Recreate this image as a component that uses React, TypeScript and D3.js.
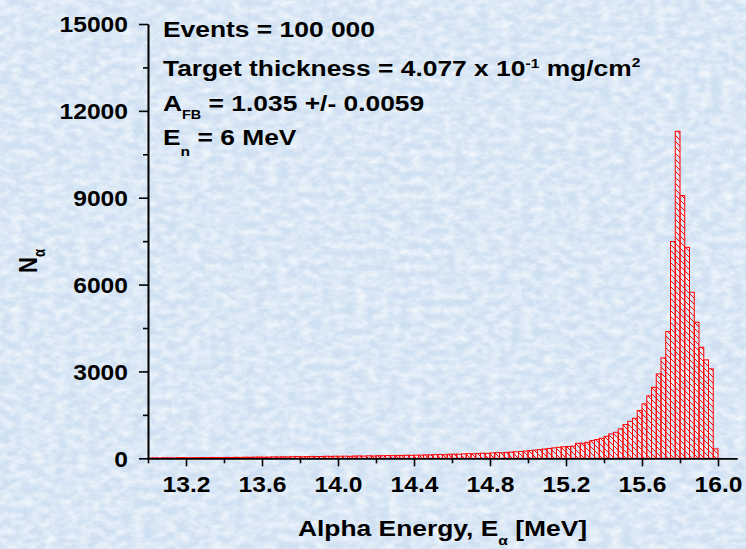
import React, { Component } from 'react';
import * as d3 from 'd3';

// histogram: 120 bins of 0.025 MeV, starting at 13.0 MeV
const binStart = 13.0;
const binWidth = 0.025;
const counts = [
    10, 15, 12, 20, 18, 14, 22, 25, 18, 20, 24, 28, 22, 30, 26, 24, 32, 28, 35, 30,
    38, 34, 40, 45, 38, 42, 50, 46, 52, 48, 55, 60, 52, 58, 65, 60, 62, 70, 66, 72,
    70, 74, 68, 78, 82, 76, 86, 80, 90, 88, 95, 92, 100, 98, 106, 102, 110, 108, 116, 120,
    125, 130, 122, 138, 145, 140, 152, 160, 155, 168, 175, 170, 185, 195, 190, 205, 215, 225, 235, 250,
    265, 285, 300, 320, 340, 360, 380,
    400, 405, 420, 518, 518, 553, 611, 646, 691, 760, 843, 898, 1016, 1164, 1278, 1382, 1648,
    1879, 2155, 2452, 2915, 3467, 4376, 7485, 11295, 9074, 7288, 5734, 4698, 3834, 3399, 3088, 325
];

const xMajorTicks = [13.2, 13.6, 14.0, 14.4, 14.8, 15.2, 15.6, 16.0];
const xMinorTicks = [13.0, 13.4, 13.8, 14.2, 14.6, 15.0, 15.4, 15.8];
const yMajorTicks = [0, 3000, 6000, 9000, 12000, 15000];
const yMinorTicks = [1500, 4500, 7500, 10500, 13500];

const FONT = "'Liberation Sans', Arial, sans-serif";
const SX_TICK = 1.12; // the original picture is stretched sideways
const SX_TEXT = 1.2;

class App extends Component {
    componentDidMount() {
        this.createchart();
    }

    componentDidUpdate() {
        this.createchart();
    }

    createchart() {
        const node = this.node;
        const width = 746, height = 549;

        const svg = d3.select(node);
        svg.selectAll('*').remove();
        svg.attr('width', width).attr('height', height);

        const defs = svg.append('defs');
        const filter = defs.append('filter').attr('id', 'mottle')
            .attr('x', 0).attr('y', 0).attr('width', '100%').attr('height', '100%');
        filter.append('feTurbulence')
            .attr('type', 'fractalNoise')
            .attr('baseFrequency', '0.09 0.14')
            .attr('numOctaves', 3)
            .attr('seed', 11);
        filter.append('feColorMatrix')
            .attr('type', 'matrix')
            .attr('values', '0 0 0 0 1  0 0 0 0 1  0 0 0 0 1  1.2 0 0 0 -0.35');

        const hatch = defs.append('pattern').attr('id', 'hatch')
            .attr('patternUnits', 'userSpaceOnUse')
            .attr('width', 6).attr('height', 6);
        hatch.append('path')
            .attr('d', 'M-1,-1 L7,7 M-1,5 L1,7 M5,-1 L7,1')
            .attr('stroke', '#ff0000')
            .attr('stroke-width', 1);

        // background
        svg.append('rect').attr('width', width).attr('height', height).attr('fill', '#cee0f2');
        svg.append('rect').attr('width', width).attr('height', height).attr('filter', 'url(#mottle)');

        const xScale = d3.scaleLinear().domain([13.0, 16.1]).range([148, 737]);
        const yScale = d3.scaleLinear().domain([0, 15000]).range([458.3, 24]);

        // bars
        svg.append('g').selectAll('rect')
            .data(counts)
            .enter()
            .append('rect')
            .attr('x', (d, i) => xScale(binStart + i * binWidth))
            .attr('width', (d, i) => xScale(binStart + (i + 1) * binWidth) - xScale(binStart + i * binWidth))
            .attr('y', d => yScale(d))
            .attr('height', d => yScale(0) - yScale(d))
            .attr('fill', 'url(#hatch)')
            .attr('stroke', '#ff0000')
            .attr('stroke-width', 1);

        const styleAxis = (g) => {
            g.select('.domain').attr('stroke', '#000').attr('stroke-width', 1.6);
            g.selectAll('.tick line').attr('stroke', '#000').attr('stroke-width', 1.6);
        };

        // x axis
        const xAxis = svg.append('g')
            .attr('transform', 'translate(0,' + yScale(0) + ')')
            .call(d3.axisBottom(xScale).tickValues(xMajorTicks).tickSize(8).tickSizeOuter(0)
                .tickFormat(d3.format('.1f')))
            .call(styleAxis);
        xAxis.selectAll('.tick text')
            .attr('y', 34).attr('dy', 0)
            .attr('transform', 'scale(' + SX_TICK + ',1)')
            .attr('fill', '#000')
            .style('font-family', FONT).style('font-weight', 'bold').style('font-size', '22px');
        svg.append('g')
            .attr('transform', 'translate(0,' + yScale(0) + ')')
            .call(d3.axisBottom(xScale).tickValues(xMinorTicks).tickSize(5).tickSizeOuter(0).tickFormat(''))
            .call(styleAxis);

        // y axis
        const yAxis = svg.append('g')
            .attr('transform', 'translate(' + xScale(13.0) + ',0)')
            .call(d3.axisLeft(yScale).tickValues(yMajorTicks).tickSize(9).tickSizeOuter(0)
                .tickFormat(d3.format('d')))
            .call(styleAxis);
        yAxis.selectAll('.tick text')
            .attr('x', -20 / SX_TICK).attr('dy', '0.36em')
            .attr('transform', 'scale(' + SX_TICK + ',1)')
            .attr('fill', '#000')
            .style('font-family', FONT).style('font-weight', 'bold').style('font-size', '22px');
        svg.append('g')
            .attr('transform', 'translate(' + xScale(13.0) + ',0)')
            .call(d3.axisLeft(yScale).tickValues(yMinorTicks).tickSize(5).tickSizeOuter(0).tickFormat(''))
            .call(styleAxis);

        // axis titles
        const xTitle = svg.append('g')
            .attr('transform', 'translate(' + ((xScale(13.0) + xScale(16.1)) / 2) + ',536) scale(' + SX_TEXT + ',1)')
            .append('text')
            .attr('text-anchor', 'middle')
            .style('font-family', FONT).style('font-weight', 'bold').style('font-size', '22px');
        xTitle.append('tspan').text('Alpha Energy, E');
        xTitle.append('tspan').attr('dy', 9).style('font-size', '13px').text('α');
        xTitle.append('tspan').attr('dy', -9).text(' [MeV]');

        const yTitle = svg.append('g')
            .attr('transform', 'translate(37,261) scale(' + SX_TEXT + ',1) rotate(-90)')
            .append('text')
            .attr('text-anchor', 'middle')
            .style('font-family', FONT).style('font-weight', 'bold').style('font-size', '22px');
        yTitle.append('tspan').text('N');
        yTitle.append('tspan').attr('dy', 7).style('font-size', '13px').text('α');

        // annotation block
        const note = svg.append('g')
            .attr('transform', 'translate(163,0) scale(' + SX_TEXT + ',1)')
            .style('font-family', FONT).style('font-weight', 'bold').style('font-size', '22px');

        note.append('text').attr('y', 37).text('Events = 100 000');

        const l2 = note.append('text').attr('y', 76);
        l2.append('tspan').text('Target thickness = 4.077 x 10');
        l2.append('tspan').attr('dy', -8).style('font-size', '13px').text('-1');
        l2.append('tspan').attr('dy', 8).text(' mg/cm');
        l2.append('tspan').attr('dy', -9).style('font-size', '13px').text('2');

        const l3 = note.append('text').attr('y', 111);
        l3.append('tspan').text('A');
        l3.append('tspan').attr('dy', 8).style('font-size', '12px').text('FB');
        l3.append('tspan').attr('dy', -8).text(' = 1.035 +/- 0.0059');

        const l4 = note.append('text').attr('y', 145);
        l4.append('tspan').text('E');
        l4.append('tspan').attr('dy', 11).style('font-size', '13px').text('n');
        l4.append('tspan').attr('dy', -11).text(' = 6 MeV');
    }

    render() {
        return (<svg ref={node => this.node = node} style={{ position: 'absolute', left: 0, top: 0, display: 'block' }} />);
    }
}

export default App;
